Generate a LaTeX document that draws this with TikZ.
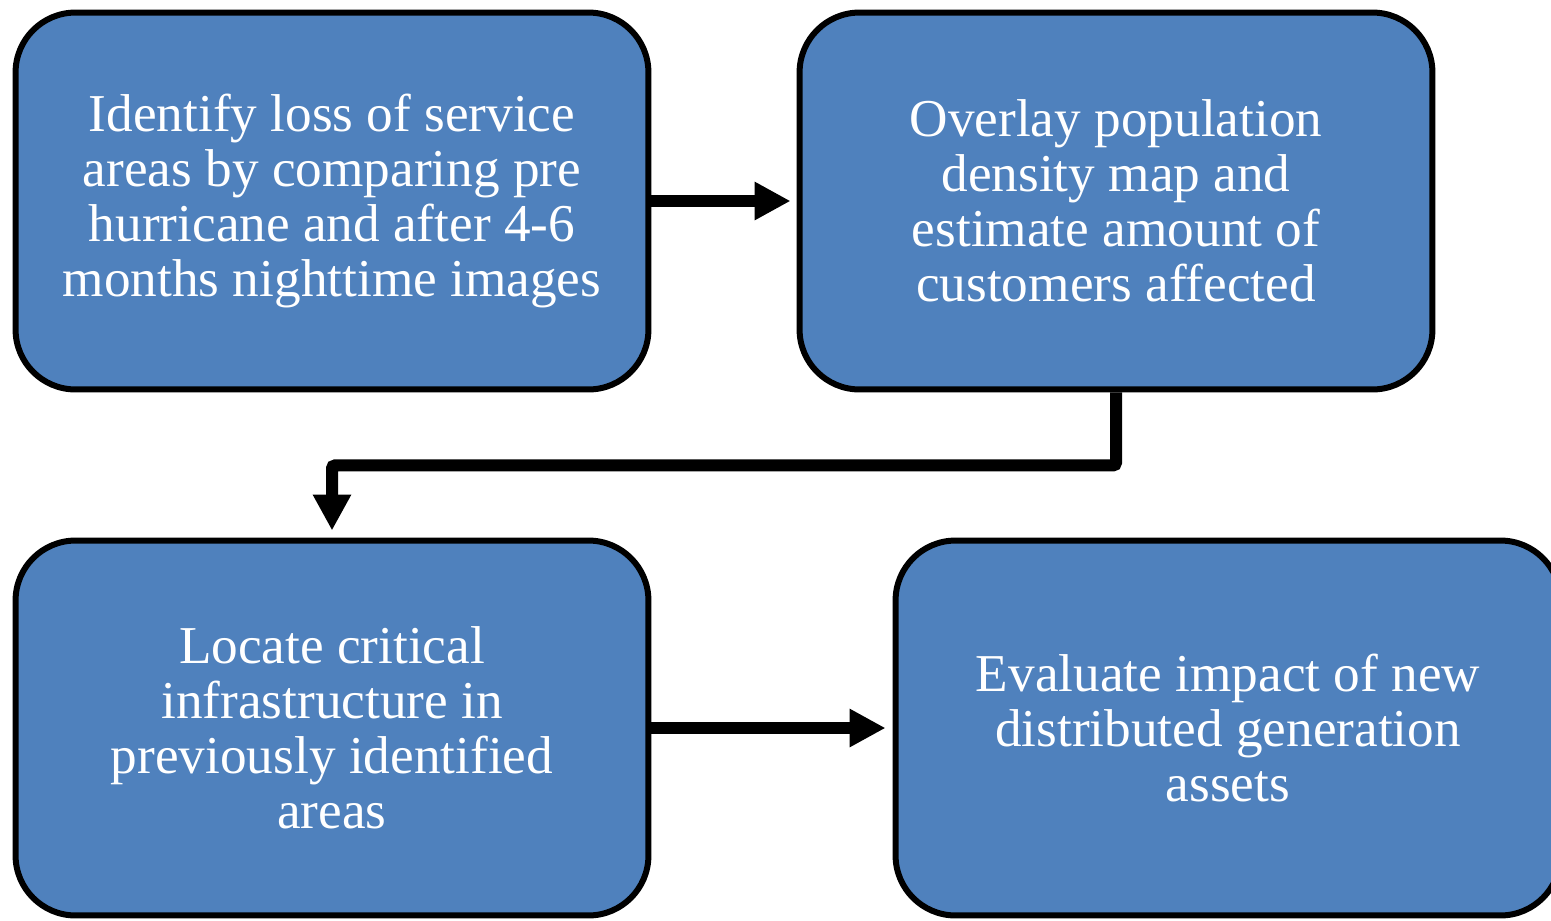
\documentclass[tikz,border=0pt]{standalone}
\usepackage{fontspec}
\setmainfont{Liberation Serif}
\usetikzlibrary{arrows.meta}
\definecolor{boxblue}{RGB}{79,129,189}
\tikzset{
  taskbox/.style={draw=black, line width=0.12cm, fill=boxblue, rounded corners=1.2cm,
    text=white, align=center, inner sep=0pt,
    font=\fontsize{30.3}{31.3}\selectfont},
  flowarrow/.style={line width=0.24cm, -{Triangle[length=0.72cm,width=0.72cm]}},
}
\begin{document}
\begin{tikzpicture}[x=0.02cm,y=-0.02cm]
        \useasboundingbox (0,0) rectangle (1551,920);

        % Steps of the analysis
        \node[taskbox, minimum width=12.66cm, minimum height=7.54cm] (loss) at (332,201)
            {Identify loss of service\\areas by comparing pre\\hurricane and after 4-6\\months nighttime images\rule[-0.2em]{0pt}{0pt}};
        \node[taskbox, minimum width=12.66cm, minimum height=7.54cm] (overlay) at (1116,201)
            {Overlay population\\density map and\\estimate amount of\\customers affected};
        \node[taskbox, minimum width=12.66cm, minimum height=7.5cm] (locate) at (332,728)
            {Locate critical\\infrastructure in\\previously identified\\areas};
        \node[taskbox, minimum width=13.3cm, minimum height=7.5cm] (evaluate) at (1228,728)
            {Evaluate impact of new\\distributed generation\\assets};

        % Arrows between the steps
        \draw[flowarrow, shorten >=0.12cm] (loss.east) -- (overlay.west);
        \draw[flowarrow, rounded corners=0.06cm, shorten >=0.14cm] (overlay.south) -- ++(0,73) -| (locate.north);
        \draw[flowarrow, shorten >=0.14cm] (locate.east) -- (evaluate.west);

\end{tikzpicture}
\end{document}
